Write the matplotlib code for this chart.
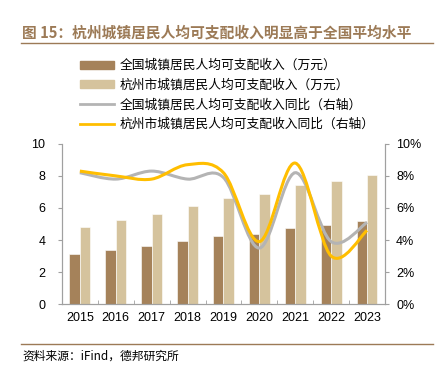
import matplotlib
matplotlib.use("Agg")
import matplotlib.pyplot as plt
from matplotlib.path import Path
from matplotlib.patches import PathPatch, Patch
from matplotlib.lines import Line2D
import numpy as np

plt.rcParams['font.family'] = ['Liberation Sans', 'Noto Sans CJK SC', 'DejaVu Sans']

years = ["2015", "2016", "2017", "2018", "2019", "2020", "2021", "2022", "2023"]
national_income = [3.12, 3.35, 3.64, 3.91, 4.22, 4.37, 4.72, 4.91, 5.18]
hangzhou_income = [4.82, 5.22, 5.61, 6.11, 6.61, 6.86, 7.46, 7.71, 8.07]
national_growth = [8.2, 7.8, 8.3, 7.8, 7.9, 3.5, 8.2, 3.9, 5.1]
hangzhou_growth = [8.3, 8.0, 7.8, 8.7, 8.2, 3.9, 8.8, 3.0, 4.6]

labels = ["全国城镇居民人均可支配收入（万元）",
          "杭州市城镇居民人均可支配收入（万元）",
          "全国城镇居民人均可支配收入同比（右轴）",
          "杭州市城镇居民人均可支配收入同比（右轴）"]

c_nat = "#A5825A"
c_hz = "#D5C39D"
c_gray = "#B4B4B4"
c_yel = "#FFBE00"
c_title = "#9C7A56"
cjk = ['Noto Sans CJK SC', 'DejaVu Sans']


def smooth_path(xs, ys):
    # catmull-rom style smoothing, drawn as bezier segments
    pts = list(zip(xs, ys))
    verts = [pts[0]]
    codes = [Path.MOVETO]
    n = len(pts)
    for i in range(n - 1):
        p0 = pts[i - 1] if i > 0 else pts[i]
        p1 = pts[i]
        p2 = pts[i + 1]
        p3 = pts[i + 2] if i + 2 < n else pts[i + 1]
        c1 = (p1[0] + (p2[0] - p0[0]) / 6, p1[1] + (p2[1] - p0[1]) / 6)
        c2 = (p2[0] - (p3[0] - p1[0]) / 6, p2[1] - (p3[1] - p1[1]) / 6)
        verts += [c1, c2, p2]
        codes += [Path.CURVE4] * 3
    return Path(verts, codes)


fig = plt.figure(figsize=(4.39, 3.66), dpi=100)
ax = fig.add_axes([0.141, 0.169, 0.736, 0.438])
ax2 = ax.twinx()

x = np.arange(len(years))
w = 0.29
ax.bar(x - w / 2, national_income, w, color=c_nat, edgecolor="white", linewidth=0.4)
ax.bar(x + w / 2, hangzhou_income, w, color=c_hz, edgecolor="white", linewidth=0.4)

ax2.add_patch(PathPatch(smooth_path(x, national_growth), fill=False,
                        edgecolor=c_gray, lw=2.2, capstyle="butt"))
ax2.add_patch(PathPatch(smooth_path(x, hangzhou_growth), fill=False,
                        edgecolor=c_yel, lw=2.2, capstyle="butt"))

ax.set_xlim(-0.5, len(years) - 0.5)
ax.set_ylim(0, 10)
ax2.set_ylim(0, 10)
ax.set_yticks(range(0, 11, 2))
ax2.set_yticks(range(0, 11, 2))
ax2.set_yticklabels([f"{v}%" for v in range(0, 11, 2)])
ax.set_xticks(x)
ax.set_xticklabels(years)
ax.set_xticks(np.arange(0.5, len(years) - 0.5), minor=True)
ax.tick_params(axis="x", which="major", length=0, labelsize=9, pad=6)
ax.tick_params(axis="x", which="minor", length=3, color="#A0A0A0", direction="in")
ax.tick_params(axis="y", labelsize=9, length=3, color="#A0A0A0", pad=9)
ax2.tick_params(axis="y", labelsize=9, length=3, color="#A0A0A0", pad=5)

for a in (ax, ax2):
    a.spines["top"].set_visible(False)
    for s in ("left", "right", "bottom"):
        a.spines[s].set_color("#A0A0A0")
        a.spines[s].set_linewidth(0.8)

handles = [Patch(color=c_nat), Patch(color=c_hz),
           Line2D([], [], color=c_gray, lw=2), Line2D([], [], color=c_yel, lw=2)]
fig.legend(handles, labels, loc="upper left", bbox_to_anchor=(0.155, 0.87),
           frameon=False, prop={"family": cjk, "size": 9.2},
           handlelength=2.7, handleheight=0.6, labelspacing=0.52, handletextpad=0.45)

fig.text(0.05, 0.91, "图 15：杭州城镇居民人均可支配收入明显高于全国平均水平",
         color=c_title, fontsize=10.6, fontweight="bold", family=cjk, va="center")
fig.add_artist(Line2D([0.048, 0.986], [0.883, 0.883], color=c_title, lw=1))
fig.add_artist(Line2D([0.048, 0.986], [0.06, 0.06], color=c_title, lw=1))
fig.text(0.05, 0.027, "资料来源：iFind，德邦研究所", fontsize=8.5, family=cjk, va="center")

fig.savefig("out.png", dpi=100)
